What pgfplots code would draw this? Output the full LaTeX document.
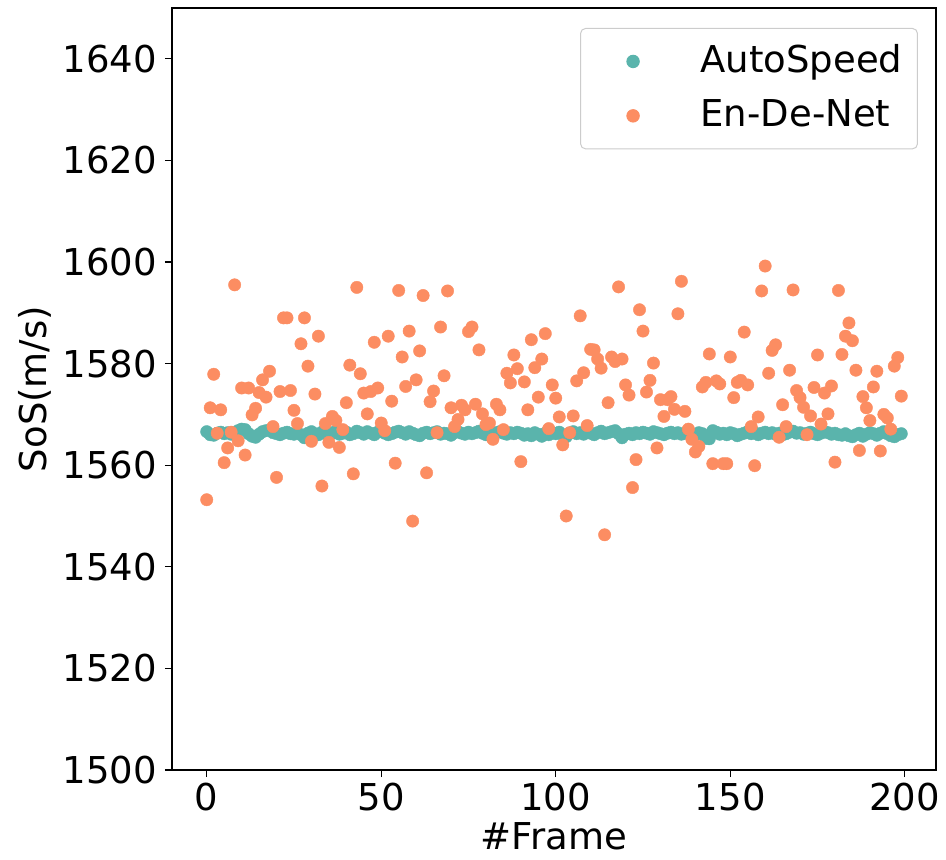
\documentclass[border=0pt]{standalone}
\usepackage{pgfplots}
\pgfplotsset{compat=1.18}
\usepackage{pgfplotstable}
\usepackage{fontspec}
\setmainfont{DejaVu Sans}
\definecolor{tealc}{HTML}{5AB4AC}
\definecolor{orngc}{HTML}{FC8D62}

\pgfplotstableread{
f a b
0 1566.6 1553.2
1 1566.0 1571.3
2 1565.9 1577.9
3 1566.3 1566.3
4 1566.5 1570.9
5 1566.2 1560.5
6 1566.4 1563.4
7 1566.1 1566.5
8 1566.5 1595.5
9 1566.8 1564.8
10 1567.1 1575.2
11 1567.0 1562.0
12 1566.2 1575.2
13 1565.7 1569.9
14 1565.5 1571.2
15 1566.1 1574.3
16 1566.6 1576.8
17 1566.8 1573.4
18 1566.9 1578.5
19 1566.4 1567.6
20 1566.2 1557.6
21 1566.0 1574.5
22 1566.3 1589.0
23 1566.5 1589.0
24 1566.2 1574.7
25 1566.1 1570.8
26 1566.4 1568.2
27 1566.0 1583.9
28 1565.4 1589.0
29 1566.3 1579.5
30 1566.6 1564.7
31 1566.2 1574.0
32 1566.0 1585.4
33 1566.5 1555.9
34 1566.3 1568.2
35 1565.8 1564.5
36 1566.4 1569.6
37 1566.6 1568.8
38 1566.1 1563.5
39 1566.3 1567.0
40 1566.5 1572.3
41 1566.0 1579.7
42 1566.2 1558.3
43 1566.7 1595.0
44 1566.4 1578.0
45 1566.1 1574.2
46 1566.6 1570.1
47 1566.3 1574.5
48 1566.0 1584.2
49 1566.5 1575.2
50 1566.8 1568.3
51 1566.3 1566.8
52 1566.0 1585.4
53 1566.2 1572.6
54 1566.5 1560.4
55 1566.7 1594.4
56 1566.4 1581.3
57 1566.1 1575.5
58 1566.6 1586.4
59 1566.3 1549.0
60 1566.0 1576.8
61 1565.8 1582.5
62 1566.3 1593.4
63 1566.5 1558.5
64 1566.2 1572.5
65 1566.4 1574.6
66 1566.6 1566.4
67 1566.1 1587.2
68 1566.3 1577.6
69 1566.2 1594.3
70 1565.9 1571.3
71 1566.4 1567.6
72 1566.6 1569.0
73 1566.3 1571.8
74 1566.1 1570.9
75 1566.5 1586.3
76 1566.2 1587.2
77 1566.4 1572.0
78 1566.7 1582.7
79 1566.3 1570.1
80 1566.0 1568.0
81 1566.5 1568.3
82 1566.2 1565.1
83 1566.4 1572.0
84 1566.6 1570.9
85 1566.3 1567.0
86 1566.1 1578.1
87 1566.4 1576.2
88 1566.2 1581.7
89 1566.5 1579.0
90 1566.3 1560.7
91 1565.9 1576.4
92 1566.2 1570.9
93 1565.8 1584.7
94 1566.4 1579.2
95 1566.1 1573.4
96 1565.7 1580.9
97 1566.3 1585.9
98 1566.0 1567.2
99 1566.4 1575.8
100 1566.2 1573.2
101 1566.5 1569.5
102 1566.0 1564.0
103 1565.6 1550.0
104 1566.3 1566.4
105 1566.6 1569.7
106 1566.2 1576.6
107 1566.4 1589.4
108 1566.1 1578.2
109 1566.5 1567.8
110 1566.3 1582.8
111 1566.0 1582.7
112 1566.4 1580.9
113 1566.7 1579.1
114 1566.2 1546.3
115 1566.4 1572.3
116 1566.6 1581.3
117 1566.8 1580.4
118 1566.2 1595.1
119 1565.4 1580.9
120 1566.1 1575.8
121 1566.3 1573.8
122 1566.0 1555.6
123 1566.4 1561.1
124 1566.2 1590.6
125 1566.5 1586.4
126 1566.3 1574.4
127 1566.1 1576.7
128 1566.6 1580.1
129 1566.4 1563.4
130 1566.2 1572.9
131 1566.0 1569.6
132 1566.3 1572.9
133 1566.5 1573.5
134 1566.2 1571.0
135 1566.4 1589.8
136 1566.1 1596.2
137 1566.3 1570.6
138 1566.6 1567.1
139 1566.2 1565.1
140 1566.0 1562.6
141 1566.4 1563.7
142 1566.2 1575.4
143 1565.3 1576.3
144 1565.2 1581.9
145 1566.8 1560.3
146 1566.5 1576.6
147 1566.1 1576.0
148 1566.3 1560.3
149 1566.0 1560.3
150 1566.4 1581.3
151 1566.2 1573.3
152 1565.8 1576.3
153 1566.1 1576.7
154 1566.3 1586.2
155 1566.6 1575.8
156 1566.2 1567.6
157 1566.4 1559.9
158 1566.0 1569.5
159 1566.3 1594.3
160 1566.5 1599.2
161 1566.2 1578.1
162 1566.4 1582.6
163 1566.1 1583.7
164 1566.3 1565.5
165 1566.0 1571.9
166 1566.2 1567.6
167 1566.5 1578.7
168 1566.7 1594.5
169 1566.3 1574.7
170 1566.4 1573.3
171 1566.1 1571.4
172 1566.3 1566.0
173 1566.5 1569.7
174 1566.2 1575.3
175 1566.0 1581.7
176 1566.3 1568.1
177 1566.6 1574.2
178 1566.4 1570.1
179 1566.1 1575.6
180 1566.3 1560.6
181 1566.0 1594.4
182 1565.9 1581.8
183 1566.2 1585.4
184 1565.8 1588.0
185 1565.6 1584.5
186 1566.0 1578.7
187 1566.3 1562.9
188 1565.7 1573.5
189 1566.1 1571.3
190 1566.4 1568.8
191 1566.2 1575.4
192 1565.9 1578.5
193 1566.3 1562.8
194 1566.6 1570.0
195 1566.2 1569.3
196 1565.8 1567.1
197 1565.6 1579.5
198 1566.0 1581.2
199 1566.2 1573.6
}\sosdata

\begin{document}
\begin{tikzpicture}
\begin{axis}[
  width=764pt, height=762pt, scale only axis,
  xmin=-9.95, xmax=208.95, ymin=1500, ymax=1650,
  xtick={0,50,100,150,200},
  ytick={1500,1520,1540,1560,1580,1600,1620,1640},
  tick align=outside, tick pos=left,
  major tick length=7pt,
  tick style={black, line width=1.1pt},
  axis line style={black, line width=1.1pt},
  /pgf/number format/assume math mode=true,
  /pgf/number format/1000 sep={},
  tick label style={font=\fontsize{37}{44}\selectfont},
  yticklabel style={inner xsep=0pt, xshift=-8pt},
  xticklabel style={inner ysep=0pt, yshift=-6pt},
  xlabel={\#Frame}, ylabel={SoS(m/s)},
  label style={font=\fontsize{37}{44}\selectfont},
  xlabel style={inner ysep=0pt, yshift=-11pt, text depth=0pt},
  ylabel style={inner ysep=0pt, yshift=11pt},
  legend style={at={(0.9764,0.9738)}, anchor=north east,
    draw=black!20, line width=1pt, rounded corners=5pt, fill=white,
    inner xsep=15pt, inner ysep=15pt, row sep=18.4pt,
    font=\fontsize{37}{44}\selectfont,
    nodes={inner xsep=0pt, inner ysep=0pt, text height=29pt, text depth=7pt}},
  legend cell align=left,
  legend image code/.code={%
    \path (0pt,0pt) (104pt,0pt);
    \draw[#1] plot coordinates {(37pt,0pt)};},
]
\addplot[only marks, mark=*, mark size=6.2pt, color=tealc, mark options={draw=tealc, fill=tealc}]
  table[x=f, y=a] {\sosdata};
\addlegendentry{AutoSpeed}
\addplot[only marks, mark=*, mark size=6.2pt, color=orngc, mark options={draw=orngc, fill=orngc}]
  table[x=f, y=b] {\sosdata};
\addlegendentry{En-De-Net}
\end{axis}
\pgfresetboundingbox
\path[use as bounding box] ([shift={(-172pt,-89pt)}]current axis.south west) rectangle ([shift={(10pt,8pt)}]current axis.north east);
\end{tikzpicture}
\end{document}
